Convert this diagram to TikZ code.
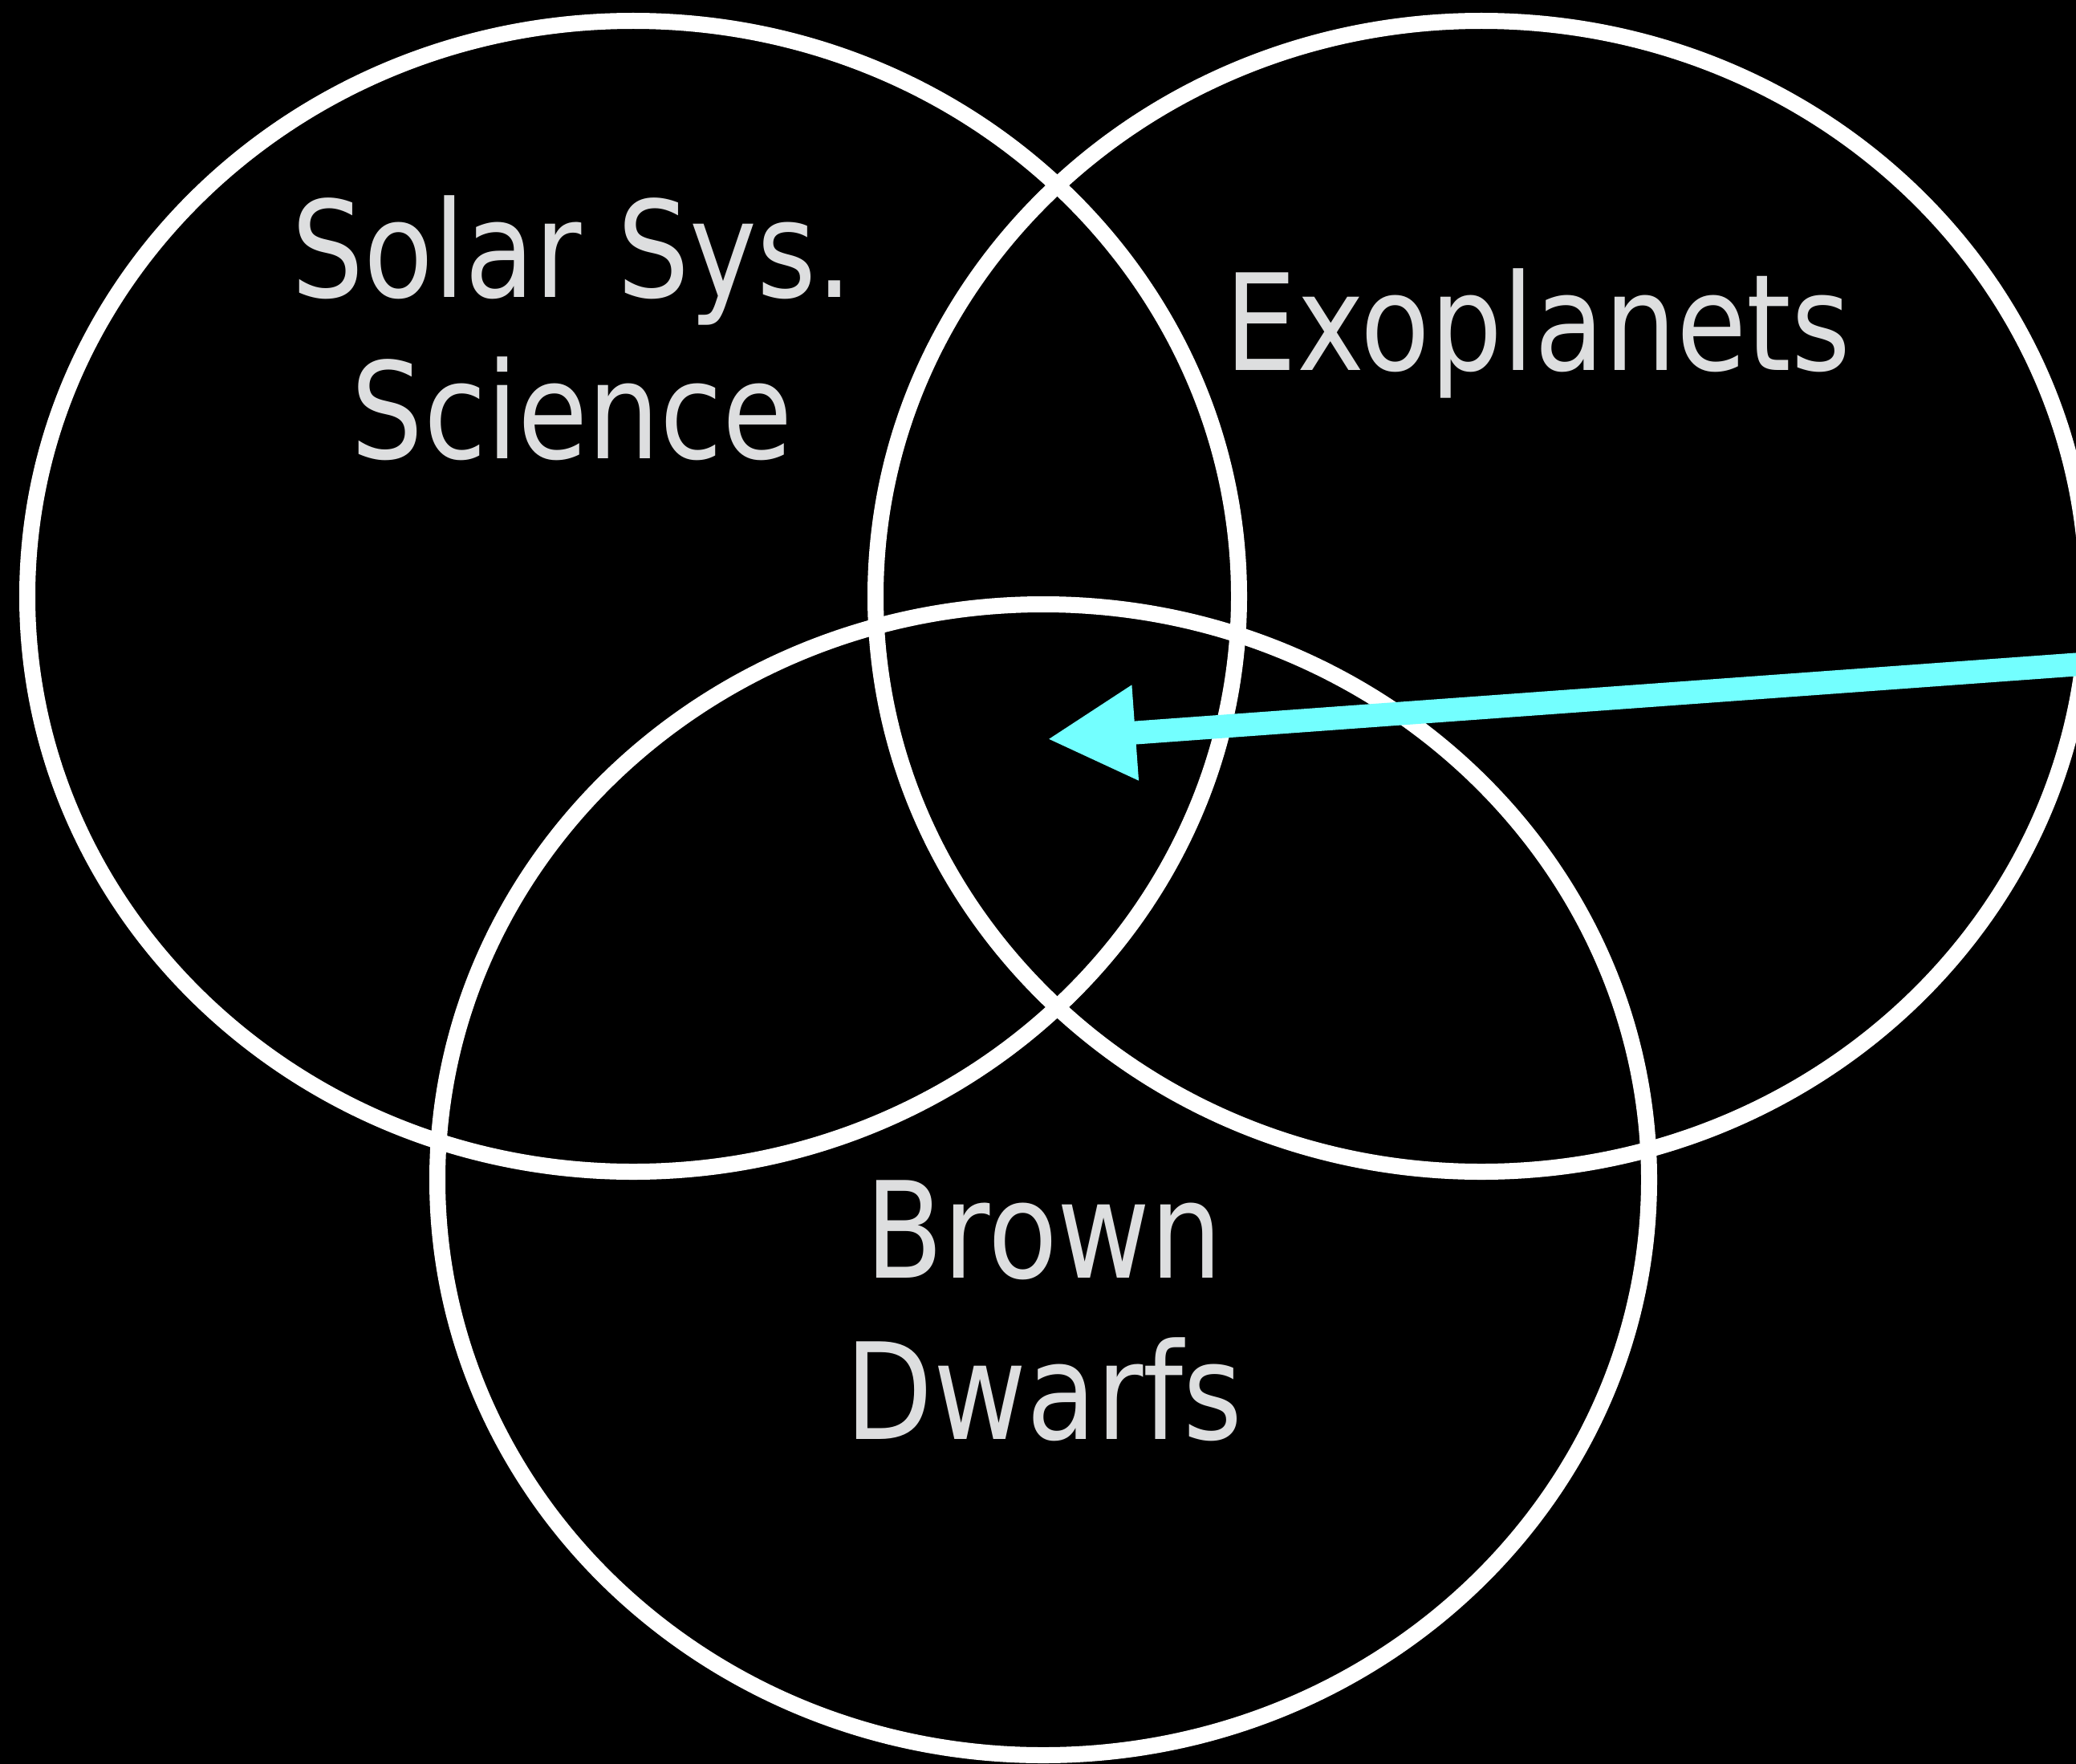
\documentclass[tikz,border=0pt]{standalone}
\usepackage{fontspec}
\newfontfamily\vennfont[FakeStretch=0.85]{DejaVu Sans}
\usepackage{tikz}
\usetikzlibrary{
  arrows.meta,
  shapes.geometric
}
\definecolor{labelgray}{RGB}{221,222,223}
\definecolor{arrowcyan}{RGB}{115,255,255}

\begin{document}
\begin{tikzpicture}[
  venn/.style={ellipse, draw=white, line width=2mm, minimum width=15.1cm, minimum height=14.34cm, inner sep=0},
  vennlabel/.style={text=labelgray, align=center, inner sep=0, anchor=base, font=\vennfont\fontsize{47.5}{57}\selectfont},
  pointer/.style={-{Triangle[length=11mm, width=11.1mm]}, draw=arrowcyan, fill=arrowcyan, line width=2.9mm}
]
  % Background
  \useasboundingbox (0,0) rectangle (25.87,-21.97);
  \clip (0,0) rectangle (25.87,-21.97);
  \fill[black] (-1,1) rectangle (27,-23);

  % Circles
  \node[venn] (solar) at (7.89,-7.43) {};
  \node[venn] (exo) at (18.46,-7.43) {};
  \node[venn] (brown) at (13.00,-14.70) {};

  % Labels (anchored at the baseline of the last line)
  \node[vennlabel] (solartext) at (7.13,-5.71) {Solar Sys.\\Science};
  \node[vennlabel] (exotext) at (19.16,-4.61) {Exoplanets};
  \node[vennlabel] (browntext) at (13.01,-17.93) {Brown\\Dwarfs};

  % Pointer to the overlap
  \coordinate (arrowstart) at (26.20,-8.256);
  \coordinate (arrowtip) at (13.05,-9.21);
  \draw[pointer] (arrowstart) -- (arrowtip);
\end{tikzpicture}
\end{document}
